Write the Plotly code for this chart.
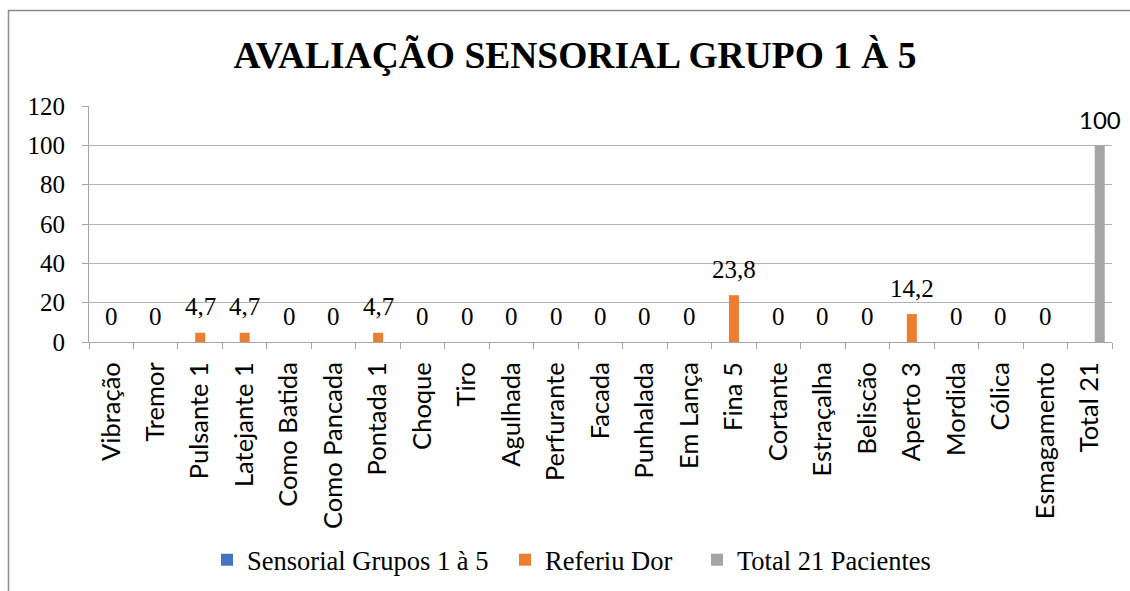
import plotly.graph_objects as go

categories = ["Vibração", "Tremor", "Pulsante 1", "Latejante 1", "Como Batida", "Como Pancada",
              "Pontada 1", "Choque", "Tiro", "Agulhada", "Perfurante", "Facada", "Punhalada",
              "Em Lança", "Fina 5", "Cortante", "Estraçalha", "Beliscão", "Aperto 3", "Mordida",
              "Cólica", "Esmagamento", "Total 21"]
sensorial = [0] * 22 + [None]
referiu_dor = [0, 0, 4.7, 4.7, 0, 0, 4.7, 0, 0, 0, 0, 0, 0, 0, 23.8, 0, 0, 0, 14.2, 0, 0, 0, None]
total = [None] * 22 + [100]
y_ticks = [0, 20, 40, 60, 80, 100, 120]

W, H = 1130, 591
ML, MR, MT, MB = 89, 18, 106, 249
PW, PH = W - ML - MR, H - MT - MB
BARGAP = 0.326


def px_x(px):
    return (px - ML) / PW


def px_y(py):
    return (H - MB - py) / PH


fig = go.Figure()
fig.add_bar(name="Sensorial Grupos 1 à 5", x=categories, y=sensorial, marker_color="#4472C4",
            marker_line_width=0, legend="legend")
fig.add_bar(name="Referiu Dor", x=categories, y=referiu_dor, marker_color="#ED7D31",
            marker_line_width=0, legend="legend2")
fig.add_bar(name="Total 21 Pacientes", x=categories, y=total, marker_color="#A5A5A5",
            marker_line_width=0, legend="legend3")


def fmt(v):
    s = ("%.1f" % v).rstrip("0").rstrip(".")
    return s.replace(".", ",")


bar_px = PW / len(categories) * (1 - BARGAP) / 3
for c, v in zip(categories, referiu_dor):
    if v is not None:
        fig.add_annotation(x=c, y=v, text=fmt(v), showarrow=False, yanchor="middle", yshift=26,
                           font=dict(family="Liberation Serif", size=25, color="#000000"))
for c, v in zip(categories, total):
    if v is not None:
        fig.add_annotation(x=c, y=v, text=fmt(v), showarrow=False, yanchor="middle", yshift=26,
                           xshift=bar_px,
                           font=dict(family="Lato", size=24, color="#000000"))

fig.add_shape(type="rect", xref="paper", yref="paper", x0=px_x(8.5), x1=px_x(1140),
              y0=px_y(600), y1=px_y(10.5), line=dict(color="#8c8c8c", width=1.5), layer="below")

leg_font = dict(family="Liberation Serif", size=26.5, color="#000000")
TXT_OFF = 40
legend_common = dict(orientation="h", yanchor="middle", y=px_y(560), xanchor="left",
                     font=leg_font, itemwidth=30, bgcolor="rgba(0,0,0,0)", visible=True)

fig.update_layout(
    width=W, height=H, autosize=False, showlegend=True,
    margin=dict(l=ML, r=MR, t=MT, b=MB, autoexpand=False),
    paper_bgcolor="white", plot_bgcolor="white",
    barmode="group", bargap=BARGAP, bargroupgap=0,
    title=dict(text="<b>AVALIAÇÃO SENSORIAL GRUPO 1 À 5</b>", x=575 / W, xanchor="center",
               y=1 - 55 / H, yanchor="middle",
               font=dict(family="Liberation Serif", size=37.5, color="#000000")),
    legend=dict(x=px_x(247 - TXT_OFF), **legend_common),
    legend2=dict(x=px_x(545 - TXT_OFF), **legend_common),
    legend3=dict(x=px_x(737 - TXT_OFF), **legend_common),
    xaxis=dict(type="category", range=[-0.5, len(categories) - 0.5], autorange=False,
               showline=True, linecolor="#a6a6a6", linewidth=1,
               ticks="outside", tickson="boundaries", ticklen=6, tickcolor="#a6a6a6",
               tickangle=-90, ticklabelstandoff=9,
               tickfont=dict(family="Lato", size=25.5, color="#000000"),
               showgrid=False),
    yaxis=dict(range=[0, 120], tickvals=y_ticks, showline=True, linecolor="#a6a6a6",
               ticks="outside", ticklen=6, tickcolor="#a6a6a6", ticklabelstandoff=12,
               showgrid=True, gridcolor="#b3b3b3", gridwidth=1, zeroline=False,
               tickfont=dict(family="Liberation Serif", size=25, color="#000000")),
)
fig.write_html(
    "out.html",
    config={"displayModeBar": False, "responsive": False},
    post_script="document.documentElement.style.overflow='hidden';"
                "document.body.style.margin='0px';document.body.style.padding='0px';"
                "document.body.style.overflow='hidden';",
)
